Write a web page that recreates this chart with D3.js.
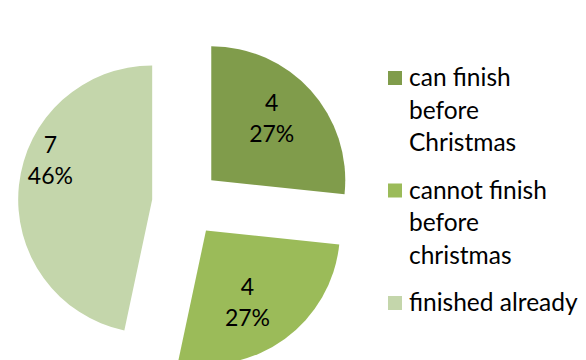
<!DOCTYPE html>
<html>
<head>
<meta charset="utf-8">
<script src="https://cdn.jsdelivr.net/npm/d3@7"></script>
<style>
  body { margin: 0; background: #fff; }
  svg { display: block; font-family: Lato, "Open Sans", sans-serif; }
</style>
</head>
<body>
<div id="chart"></div>
<script>
const categories = ['can finish before Christmas', 'cannot finish before christmas', 'finished already'];
const values = [4, 4, 7];
const percentLabels = ['27%', '27%', '46%'];
const legendLines = [
    ['can finish', 'before', 'Christmas'],
    ['cannot finish', 'before', 'christmas'],
    ['finished already']
];
const colors = ['#809c4b', '#9bbb59', '#c4d6ab'];

const svgWidth = 586;
const svgHeight = 360;
const radius = 134;
const explode = 34;
const center = { x: 186, y: 203 };

// label placement tweaks (distance from slice tip, angle shift in degrees)
const labelOffsets = [
    { dist: 87, shift: -4 },
    { dist: 83, shift: 6 },
    { dist: 109, shift: 15 }
];

const svg = d3.select('#chart')
    .append('svg')
    .attr('width', svgWidth)
    .attr('height', svgHeight);

const data = categories.map((c, i) => ({ name: c, value: values[i], pct: percentLabels[i] }));

const pie = d3.pie()
    .sort(null)
    .value(d => d.value);

const arc = d3.arc()
    .innerRadius(0)
    .outerRadius(radius);

const slices = svg.append('g')
    .attr('transform', `translate(${center.x}, ${center.y})`)
    .selectAll('g.slice')
    .data(pie(data))
    .enter()
    .append('g')
    .attr('class', 'slice')
    .attr('transform', d => {
        const mid = (d.startAngle + d.endAngle) / 2;
        return `translate(${Math.sin(mid) * explode}, ${-Math.cos(mid) * explode})`;
    });

slices.append('path')
    .attr('d', arc)
    .attr('fill', (d, i) => colors[i]);

const labels = slices.append('text')
    .attr('text-anchor', 'middle')
    .attr('font-size', 23)
    .attr('fill', '#000')
    .attr('transform', (d, i) => {
        const mid = (d.startAngle + d.endAngle) / 2 + labelOffsets[i].shift * Math.PI / 180;
        const r = labelOffsets[i].dist;
        return `translate(${Math.sin(mid) * r}, ${-Math.cos(mid) * r})`;
    });

labels.append('tspan')
    .attr('x', 0)
    .attr('y', -7)
    .text(d => d.data.value);

labels.append('tspan')
    .attr('x', 0)
    .attr('y', 24)
    .text(d => d.data.pct);

// legend
const legend = svg.append('g')
    .attr('transform', 'translate(388, 0)');

const lineHeight = 32.5;
let baseline = 86;
legendLines.forEach((lines, i) => {
    legend.append('rect')
        .attr('x', 0)
        .attr('y', baseline - 15)
        .attr('width', 14)
        .attr('height', 14)
        .attr('fill', colors[i]);

    const t = legend.append('text')
        .attr('font-size', 24.5)
        .attr('fill', '#000');
    lines.forEach((line, j) => {
        t.append('tspan')
            .attr('x', 21)
            .attr('y', baseline + j * lineHeight)
            .text(line);
    });
    baseline += (lines.length - 1) * lineHeight + 47.5;
});
</script>
</body>
</html>
